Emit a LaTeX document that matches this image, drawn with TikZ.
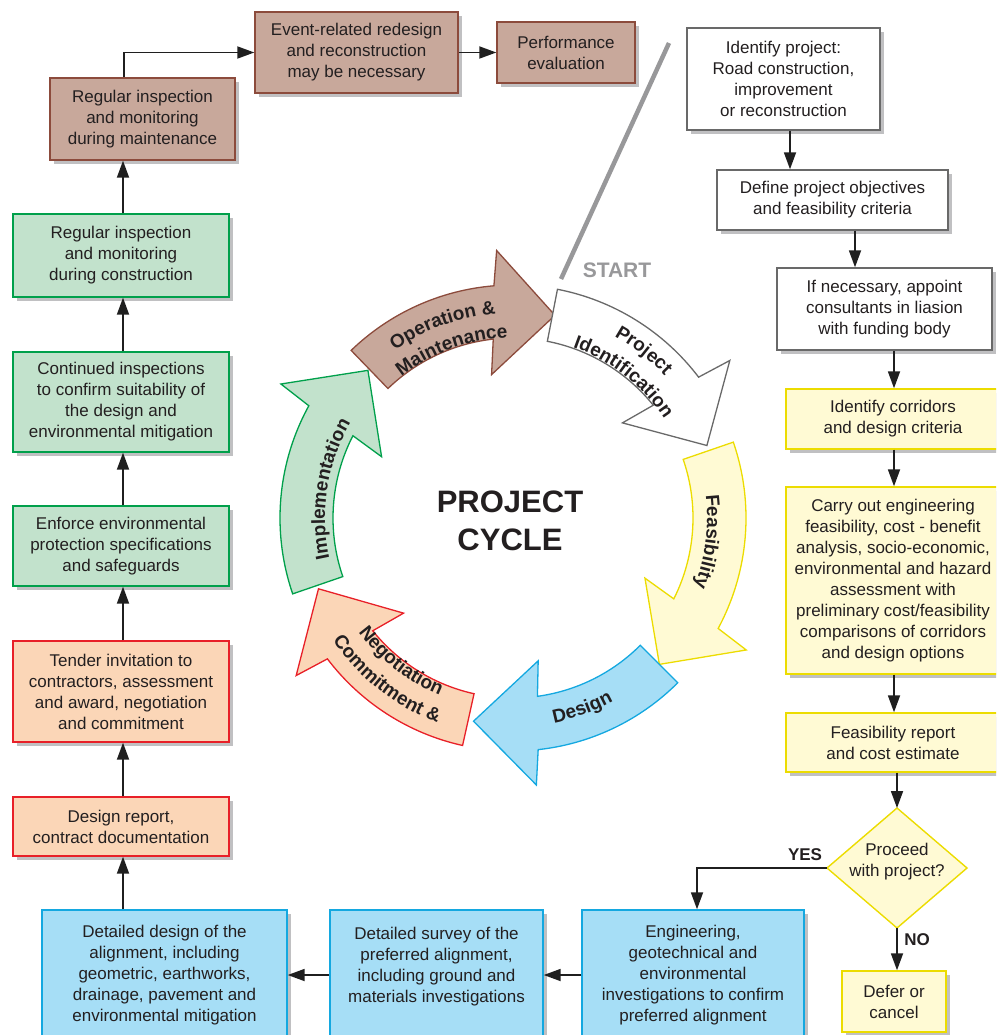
\documentclass[tikz,border=0pt]{standalone}
\usepackage{fontspec}
\setmainfont{Liberation Sans}
\usetikzlibrary{arrows.meta,shadows,decorations.text,calc}
\definecolor{brF}{RGB}{200,168,155}
\definecolor{brD}{RGB}{140,75,60}
\definecolor{grF}{RGB}{194,226,204}
\definecolor{grD}{RGB}{0,160,75}
\definecolor{peF}{RGB}{251,214,183}
\definecolor{peD}{RGB}{232,32,40}
\definecolor{blF}{RGB}{166,222,246}
\definecolor{blD}{RGB}{20,168,224}
\definecolor{yeF}{RGB}{255,250,212}
\definecolor{yeD}{RGB}{236,220,0}
\definecolor{whD}{RGB}{105,105,105}
\definecolor{txt}{RGB}{35,31,32}
\definecolor{shd}{RGB}{192,192,194}
\definecolor{startc}{RGB}{152,152,154}
\newcommand\bxfont{\fontsize{17}{21}\selectfont}
\newcommand\lblfont{\fontsize{19}{22}\selectfont\bfseries}
\newcommand\cycarrow[4]{%
  \draw[#4] ({#1}:233) arc[start angle={#1}, end angle={#2-0.8}, radius=233]
    -- ({#2-2}:268) -- ({#3}:207) -- ({#2+3}:145) -- ({#2+0.8}:180)
    arc[start angle={#2+0.8}, end angle={#1}, radius=180] -- cycle;}
\newcommand\arctext[4]{%
  \path[decorate,decoration={text along path,text align=center,text color=txt,text={|\lblfont|#4}}]
    ({#1}:#3) arc[start angle={#1}, end angle={#2}, radius=#3];}
\begin{document}
\begin{tikzpicture}[x=1pt,y=1pt,
  box/.style={draw, line width=1.4pt, align=center, inner sep=0pt, text=txt, font=\bxfont,
    drop shadow={shadow xshift=4pt, shadow yshift=-4pt, fill=shd, opacity=1}},
  brbox/.style={box, fill=brF, draw=brD},
  grbox/.style={box, fill=grF, draw=grD},
  pebox/.style={box, fill=peF, draw=peD},
  blbox/.style={box, fill=blF, draw=blD},
  yebox/.style={box, fill=yeF, draw=yeD},
  whbox/.style={box, fill=white, draw=whD},
  conn/.style={line width=1.8pt, draw=black!88, -{Triangle[length=17pt,width=12pt]}},
  cyc/.style={line width=1.3pt, line join=miter},
  lab/.style={font=\fontsize{17}{20}\selectfont\bfseries, text=txt, inner sep=0pt}
]
\useasboundingbox (0,0) rectangle (996,-1035);
\clip (0,0) rectangle (996,-1035);

% START line
\coordinate (stA) at (669,-43);
\coordinate (stB) at (561,-279);
\draw[startc, line width=4.5pt] (stA) -- (stB);
\node[font=\fontsize{21}{24}\selectfont\bfseries, text=startc, inner sep=0pt] (start) at (617,-270) {START};

% cycle arrows
\begin{scope}[shift={(513,-518)}]
\cycarrow{199}{152}{134.5}{cyc, fill=grF, draw=grD}
\cycarrow{134}{95.5}{78.3}{cyc, fill=brF, draw=brD}
\cycarrow{79}{38}{20.5}{cyc, fill=white, draw=whD}
\cycarrow{19}{-27.5}{-45}{cyc, fill=yeF, draw=yeD}
\cycarrow{-45}{-83}{-101}{cyc, fill=blF, draw=blD}
\cycarrow{-102.5}{-142}{-160}{cyc, fill=peF, draw=peD}
\arctext{155}{65}{205}{Operation {\&}}
\arctext{155}{65}{180}{Maintenance}
\arctext{97}{7}{208}{Project}
\arctext{97}{7}{181}{Identification}
\arctext{38}{-52}{194}{Feasibility}
\arctext{216}{126}{188}{Implementation}
\arctext{-115}{-25}{209}{Design}
\arctext{-173}{-83}{192}{Negotiation}
\arctext{-173}{-83}{218}{Commitment {\&}}
\end{scope}
\node[font=\fontsize{31}{38}\selectfont\bfseries, text=txt, align=center] (title) at (510,-521) {PROJECT\\CYCLE};

% top row
\node[brbox, minimum width=185pt, minimum height=82pt] (maint) at (142.5,-119) {Regular inspection\\and monitoring\\during maintenance};
\node[brbox, minimum width=203pt, minimum height=81pt] (event) at (356.5,-52.5) {Event-related redesign\\and reconstruction\\may be necessary};
\node[brbox, minimum width=138pt, minimum height=61pt] (perf) at (566,-52.5) {Performance\\evaluation};

% left column
\node[grbox, minimum width=216pt, minimum height=83pt] (regc) at (121,-255.5) {Regular inspection\\and monitoring\\during construction};
\node[grbox, minimum width=216pt, minimum height=100pt] (cont) at (121,-402) {Continued inspections\\to confirm suitability of\\the design and\\environmental mitigation};
\node[grbox, minimum width=216pt, minimum height=80pt] (enf) at (121,-546) {Enforce environmental\\protection specifications\\and safeguards};
\node[pebox, minimum width=216pt, minimum height=101pt] (tender) at (121,-691.5) {Tender invitation to\\contractors, assessment\\and award, negotiation\\and commitment};
\node[pebox, minimum width=216pt, minimum height=59pt] (dr) at (121,-826.5) {Design report,\\contract documentation};

% bottom row
\node[blbox, minimum width=245pt, minimum height=130pt] (design) at (164.5,-975) {Detailed design of the\\alignment, including\\geometric, earthworks,\\drainage, pavement and\\environmental mitigation};
\node[blbox, minimum width=213pt, minimum height=130pt] (survey) at (436.5,-975) {Detailed survey of the\\preferred alignment,\\including ground and\\materials investigations\\\mbox{}};
\node[blbox, minimum width=222pt, minimum height=130pt] (eng) at (693,-975) {Engineering,\\geotechnical and\\environmental\\investigations to confirm\\preferred alignment};

% right column
\node[whbox, minimum width=193pt, minimum height=102pt] (idp) at (783.5,-79) {Identify project:\\Road construction,\\improvement\\or reconstruction};
\node[whbox, minimum width=231pt, minimum height=60pt] (def) at (832.5,-200) {Define project objectives\\and feasibility criteria};
\node[whbox, minimum width=215pt, minimum height=82pt] (ifn) at (884.5,-309) {If necessary, appoint\\consultants in liasion\\with funding body};
\node[yebox, minimum width=214pt, minimum height=60pt] (corr) at (893,-419) {Identify corridors\\and design criteria};
\node[yebox, minimum width=214pt, minimum height=187pt] (carry) at (893,-580.5) {Carry out engineering\\feasibility, cost - benefit\\analysis, socio-economic,\\environmental and hazard\\assessment with\\preliminary cost/feasibility\\comparisons of corridors\\and design options};
\node[yebox, minimum width=214pt, minimum height=59pt] (frep) at (893,-742.5) {Feasibility report\\and cost estimate};

% decision diamond
\coordinate (diaN) at (897,-808);
\coordinate (diaS) at (897,-928);
\coordinate (diaW) at (827,-868);
\coordinate (diaE) at (967,-868);
\fill[shd, shift={(4,-4)}] (diaW) -- (diaN) -- (diaE) -- (diaS) -- cycle;
\draw[fill=yeF, draw=yeD, line width=1.4pt] (diaW) -- (diaN) -- (diaE) -- (diaS) -- cycle;
\node[align=center, text=txt, font=\bxfont, inner sep=0pt] (dia) at (897,-862) {Proceed\\with project?};
\node[yebox, minimum width=104pt, minimum height=61pt] (defer) at (894,-1001.5) {Defer or\\cancel};

% column coordinates
\coordinate (colL) at (123,0);
\coordinate (colT) at (124,0);
\coordinate (c1) at (790,0);
\coordinate (c2) at (855,0);
\coordinate (c3) at (894,0);
\coordinate (c4) at (697,0);

% connectors
\draw[conn] (maint.north -| colT) |- (event.west);
\draw[conn] (event.east) -- (perf.west);
\draw[conn] (regc.north -| colL) -- (maint.south -| colL);
\draw[conn] (cont.north -| colL) -- (regc.south -| colL);
\draw[conn] (enf.north -| colL) -- (cont.south -| colL);
\draw[conn] (tender.north -| colL) -- (enf.south -| colL);
\draw[conn] (dr.north -| colL) -- (tender.south -| colL);
\draw[conn] (design.north -| colL) -- (dr.south -| colL);
\draw[conn] (survey.west) -- (design.east);
\draw[conn] (eng.west) -- (survey.east);
\draw[conn] (idp.south -| c1) -- (def.north -| c1);
\draw[conn] (def.south -| c2) -- (ifn.north -| c2);
\draw[conn] (ifn.south -| c3) -- (corr.north -| c3);
\draw[conn] (corr.south -| c3) -- (carry.north -| c3);
\draw[conn] (carry.south -| c3) -- (frep.north -| c3);
\draw[conn] (frep.south -| diaN) -- (diaN);
\draw[conn] (diaS) -- (defer.north -| diaS);
\draw[conn] (diaW) -| (eng.north -| c4);

\node[lab] (yes) at (805,-855) {YES};
\node[lab] (no) at (917,-940) {NO};
\end{tikzpicture}
\end{document}
